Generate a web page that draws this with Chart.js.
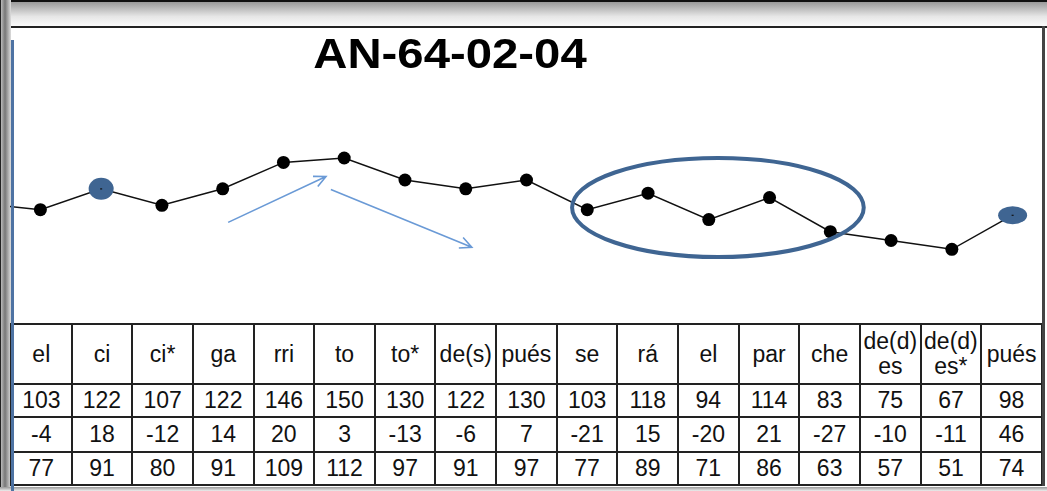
<!DOCTYPE html>
<html>
<head>
<meta charset="utf-8">
<script src="https://cdn.jsdelivr.net/npm/chart.js@4/dist/chart.umd.min.js"></script>
<style>
  html, body { margin: 0; padding: 0; background: #fff; }
  body { width: 1047px; height: 491px; position: relative; overflow: hidden; font-family: "Liberation Sans", Arial, sans-serif; }
  #topband { position: absolute; left: 0; top: 0; width: 1047px; height: 24px;
    border-top: 2px solid #111; border-bottom: 2px solid #222;
    background: linear-gradient(to bottom, #9a9a9a, #e6e6e6 60%, #fafafa); }
  #leftband { position: absolute; left: 0; top: 0; width: 10px; height: 491px;
    background: linear-gradient(to right, #bbb, #777 40%, #ddd); border-left: 1px solid #222; }
  #bottomband { position: absolute; left: 0; top: 487px; width: 1047px; height: 4px;
    background: linear-gradient(to bottom, #999, #eee); }
  #rightedge { position: absolute; left: 1042px; top: 26px; width: 3px; height: 460px; background: #444; }
  #bluebar { position: absolute; left: 11px; top: 40px; width: 3px; height: 451px; background: #4e73a3; }
  #wrap { position: absolute; left: 10px; top: 26px; width: 1033px; height: 297px; }
  #myChart { display: block; width: 1033px; height: 297px; }
  #tbl { position: absolute; left: 10px; top: 323px; width: 1033px; border-collapse: collapse; table-layout: fixed; }
  #tbl td { border: 2px solid #222; text-align: center; padding: 0; font-size: 23px; color: #111; line-height: 25px; }
  #tbl tr.head td { height: 58px; }
  #tbl tr.r1 td { height: 31px; }
  #tbl tr.r2 td { height: 33px; }
  #tbl tr.r3 td { height: 31px; }
</style>
</head>
<body>
<div id="topband"></div>
<div id="leftband"></div>
<div id="bottomband"></div>
<div id="wrap"><canvas id="myChart" width="1033" height="297"></canvas></div>
<table id="tbl"></table>
<div id="rightedge"></div>
<div id="bluebar"></div>
<script>
// Données
const titre = 'AN-64-02-04';
const syllabes = ['el', 'ci', 'ci*', 'ga', 'rri', 'to', 'to*', 'de(s)', 'pués', 'se', 'rá', 'el', 'par', 'che', 'de(d)\nes', 'de(d)\nes*', 'pués'];
const f0 = [103, 122, 107, 122, 146, 150, 130, 122, 130, 103, 118, 94, 114, 83, 75, 67, 98];
const ecarts = [-4, 18, -12, 14, 20, 3, -13, -6, 7, -21, 15, -20, 21, -27, -10, -11, 46];
const pourcent = [77, 91, 80, 91, 109, 112, 97, 91, 97, 77, 89, 71, 86, 63, 57, 51, 74];
const f0Avant = 109;          // valeur du segment précédent (coupée à gauche)
const marques = [1, 16];       // points surlignés en bleu

// Tableau sous le graphique
const tbl = document.getElementById('tbl');
function ligne(cls, valeurs) {
    const tr = document.createElement('tr');
    tr.className = cls;
    valeurs.forEach(v => {
        const td = document.createElement('td');
        String(v).split('\n').forEach((part, i) => {
            if (i > 0) td.appendChild(document.createElement('br'));
            td.appendChild(document.createTextNode(part));
        });
        tr.appendChild(td);
    });
    tbl.appendChild(tr);
}
ligne('head', syllabes);
ligne('r1', f0);
ligne('r2', ecarts);
ligne('r3', pourcent);

const points = [{ x: -1, y: f0Avant }].concat(f0.map((v, i) => ({ x: i, y: v })));

// Dessins ajoutés : titre, marques, ellipse, flèches
const bleu = '#3f6592';
const decor = {
    id: 'decor',
    afterDatasetsDraw(chart) {
        const ctx = chart.ctx;
        const xs = chart.scales.x, ys = chart.scales.y;
        const meta = chart.getDatasetMeta(0);
        ctx.save();

        // titre
        ctx.font = 'bold 43px "Liberation Sans", Arial, sans-serif';
        ctx.fillStyle = '#000';
        ctx.textAlign = 'center';
        ctx.textBaseline = 'alphabetic';
        ctx.save();
        ctx.translate(440, 42);
        ctx.scale(1.1, 1);
        ctx.fillText(titre, 0, 0);
        ctx.restore();

        // marques bleues
        marques.forEach((idx, k) => {
            const p = meta.data[idx + 1];
            ctx.fillStyle = bleu;
            ctx.beginPath();
            ctx.ellipse(p.x, p.y, k === 0 ? 12.5 : 14.5, k === 0 ? 11 : 9, 0, 0, Math.PI * 2);
            ctx.fill();
            ctx.fillStyle = '#111';
            ctx.fillRect(p.x - 1, p.y - 0.5, 2, 1.2);
        });

        // grande ellipse
        const x1 = xs.getPixelForValue(8.75), x2 = xs.getPixelForValue(13.55);
        const y1 = ys.getPixelForValue(150), y2 = ys.getPixelForValue(60);
        ctx.strokeStyle = bleu;
        ctx.lineWidth = 4;
        ctx.beginPath();
        ctx.ellipse((x1 + x2) / 2, (y1 + y2) / 2, (x2 - x1) / 2, (y2 - y1) / 2, 0, 0, Math.PI * 2);
        ctx.stroke();

        // flèches
        function fleche(ax, ay, bx, by) {
            const x0 = xs.getPixelForValue(ax), y0 = ys.getPixelForValue(ay);
            const xe = xs.getPixelForValue(bx), ye = ys.getPixelForValue(by);
            const a = Math.atan2(ye - y0, xe - x0);
            ctx.strokeStyle = '#6a9ad6';
            ctx.lineWidth = 1.6;
            ctx.beginPath();
            ctx.moveTo(x0, y0);
            ctx.lineTo(xe, ye);
            ctx.moveTo(xe - 13 * Math.cos(a - 0.45), ye - 13 * Math.sin(a - 0.45));
            ctx.lineTo(xe, ye);
            ctx.lineTo(xe - 13 * Math.cos(a + 0.45), ye - 13 * Math.sin(a + 0.45));
            ctx.stroke();
        }
        fleche(3.09, 91.5, 4.70, 133.2);
        fleche(4.78, 121.4, 7.10, 68.9);

        ctx.restore();
    }
};

const ctx = document.getElementById('myChart').getContext('2d');
const myChart = new Chart(ctx, {
    type: 'line',
    data: {
        datasets: [{
            label: 'F0',
            data: points,
            borderColor: '#111',
            borderWidth: 1.5,
            backgroundColor: '#000',
            pointBackgroundColor: '#000',
            pointBorderWidth: 0,
            pointRadius: c => (c.dataIndex === 0 || marques.includes(c.dataIndex - 1)) ? 0 : 6.5,
            clip: 0,
            fill: false,
            tension: 0
        }]
    },
    options: {
        responsive: false,
        maintainAspectRatio: false,
        animation: false,
        layout: { padding: 0 },
        plugins: { legend: { display: false }, tooltip: { enabled: false }, title: { display: false } },
        scales: {
            x: { type: 'linear', min: -0.5, max: 16.5, display: false },
            y: { min: 0, max: 270, display: false }
        }
    },
    plugins: [decor]
});
</script>
</body>
</html>
